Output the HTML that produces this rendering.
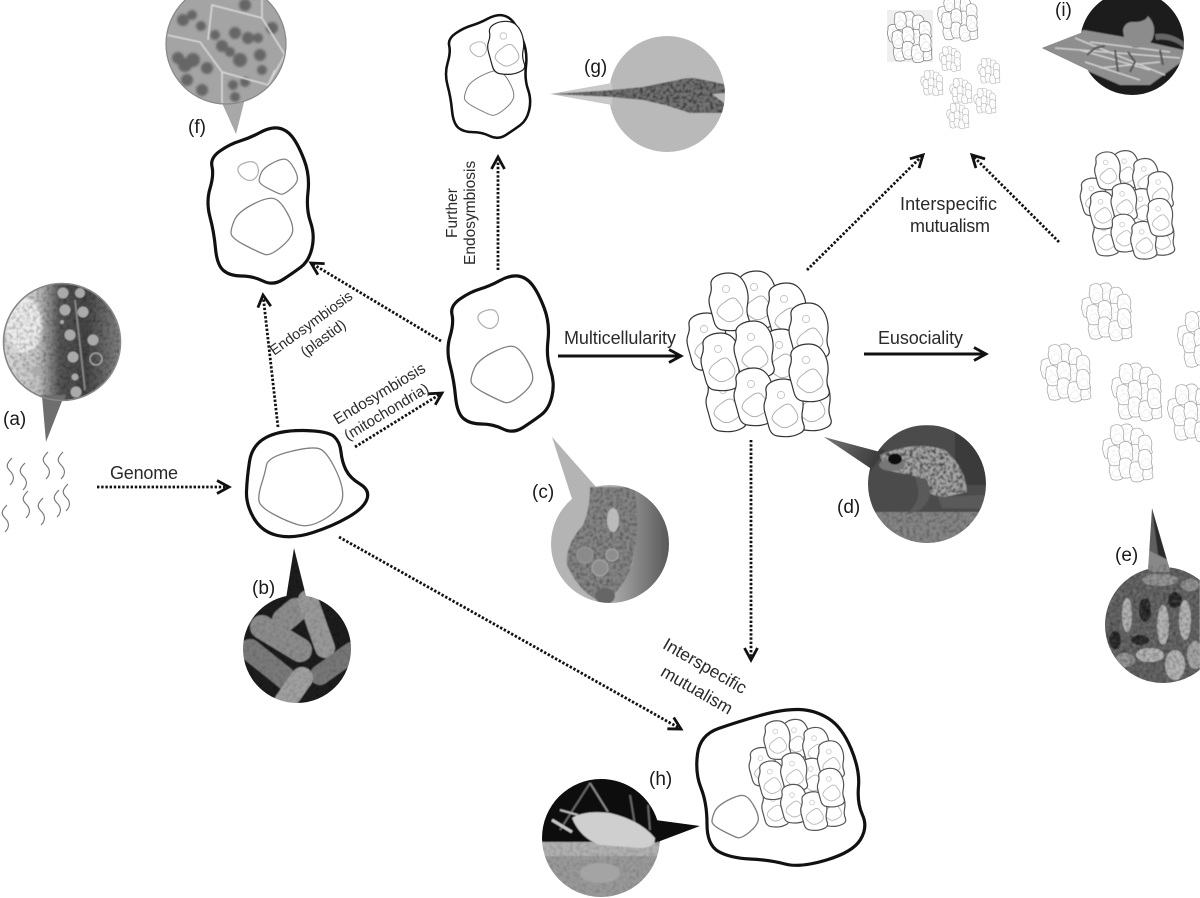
<!DOCTYPE html>
<html>
<head>
<meta charset="utf-8">
<style>
html,body{margin:0;padding:0;background:#fff;width:1200px;height:898px;overflow:hidden}
svg{display:block}
text{font-family:"Liberation Sans",sans-serif;fill:#2a2a2a;font-size:18px}
.p{font-size:19px;fill:#1a1a1a}
.o{fill:none;stroke:#111;stroke-width:3.2;stroke-linejoin:round}
.n{fill:none;stroke:#808080;stroke-width:1.3;stroke-linejoin:round}
.m{fill:none;stroke:#b0b0b0;stroke-width:1.2;stroke-linejoin:round}
.d{fill:none;stroke:#111;stroke-width:2.8;stroke-dasharray:2.4 1.8;marker-end:url(#h)}
.s{fill:none;stroke:#111;stroke-width:3;marker-end:url(#h)}
.g{fill:none;stroke:#777;stroke-width:1.2}
.ko{fill:#fff;stroke:currentColor;stroke-width:var(--w,1.2);vector-effect:non-scaling-stroke}
.ki{fill:none;stroke:var(--i,#b0b0b0);stroke-width:var(--v,1);vector-effect:non-scaling-stroke}
.kc{fill:none;stroke:var(--c,#c8c8c8);stroke-width:var(--v,1);vector-effect:non-scaling-stroke}
</style>
</head>
<body>
<svg width="1200" height="898" viewBox="0 0 1200 898" xmlns="http://www.w3.org/2000/svg">
<defs>
<marker id="h" markerUnits="userSpaceOnUse" markerWidth="28" markerHeight="28" refX="14" refY="14" orient="auto" overflow="visible">
<path d="M2,7.5 L14,14 L2,20.5" fill="none" stroke="#111" stroke-width="2.8"/>
</marker>
<path id="oc" d="M518,276 Q526,277 532,284.5 Q538,292 544,307.5 Q550,323 548,340 Q546,357 550.5,370 Q555,383 552,396 Q549,409 541,415 Q533,421 523,427.5 Q513,434 503,429 Q493,424 481.5,424 Q470,424 463.5,418.5 Q457,413 455.5,396.5 Q454,380 450,365 Q446,350 450,336.5 Q454,323 452,314.5 Q450,306 460,299 Q470,292 480,289 Q490,286 500,280.5 Q510,275 518,276Z"/>
<path id="nc" d="M492.5,352.5 Q507,345 513.5,346.5 Q520,348 527,360.5 Q534,373 532.5,380 Q531,387 520.5,395.5 Q510,404 505,402.5 Q500,401 485.5,393.5 Q471,386 471,381 Q471,376 474.5,368 Q478,360 492.5,352.5Z"/>
<path id="sc" d="M486,310.5 Q494,308 497,313 Q500,319 497,324 Q493,330 487,328 Q480,325 478,319 Q477,313 486,310.5Z"/>
<g id="k">
<path class="ko" d="M-1.5,-29 Q6,-29 10.5,-24.5 Q15,-20 17,-12.5 Q19,-5 17.5,2.5 Q16,10 18.5,16 Q21,22 15.5,25 Q10,28 4.5,28.5 Q-1,29 -7.5,28 Q-14,27 -16,19.5 Q-18,12 -20,5 Q-22,-2 -20,-7 Q-18,-12 -19,-17 Q-20,-22 -14.5,-25.5 Q-9,-29 -1.5,-29Z"/>
<path class="ki" d="M-5,0 Q2,-6 6,-3 Q12,3 13,9 Q13,14 7,17 Q1,21 -4,19 Q-11,15 -13,11 Q-13,5 -5,0Z"/>
<circle class="kc" cx="-4" cy="-13" r="3.6"/>
</g>
<g id="col">
<use href="#k" x="-2" y="-54"/><use href="#k" x="28" y="-42"/><use href="#k" x="-52" y="-12"/><use href="#k" x="23" y="4"/><use href="#k" x="-33" y="49"/><use href="#k" x="52" y="48"/><use href="#k" x="-30" y="-52"/><use href="#k" x="50" y="-22"/><use href="#k" x="-38" y="8"/><use href="#k" x="-5" y="-4"/><use href="#k" x="-5" y="43"/><use href="#k" x="25" y="54"/><use href="#k" x="50" y="19"/>
</g>
<path id="sq" d="M0,0 c-6,6 -6,9 -2,13 c5,5 4,10 0,14" class="g"/>
<linearGradient id="ga"><stop offset="0" stop-color="#dcdcdc"/><stop offset=".3" stop-color="#c4c4c4"/><stop offset=".48" stop-color="#555"/><stop offset=".68" stop-color="#444"/><stop offset="1" stop-color="#8a8a8a"/></linearGradient>
<linearGradient id="gc"><stop offset="0" stop-color="#b5b5b5"/><stop offset="1" stop-color="#505050"/></linearGradient>
<linearGradient id="gd" x1="0" x2="1" y1="0" y2=".3"><stop offset="0" stop-color="#777"/><stop offset="1" stop-color="#3a3a3a"/></linearGradient>
<clipPath id="ca"><circle cx="62" cy="342" r="59"/><polygon points="42,396 64,396 46,442"/></clipPath>
<clipPath id="cb"><circle cx="297" cy="649" r="54"/><polygon points="285,605 307,600 294,548"/></clipPath>
<clipPath id="cc"><circle cx="610" cy="544" r="59"/><polygon points="552,437 573,502 597,488"/></clipPath>
<clipPath id="cd"><circle cx="927" cy="484" r="59"/><polygon points="824,437 880,452 873,470"/></clipPath>
<clipPath id="ce"><circle cx="1163" cy="625" r="58"/><polygon points="1152,508 1148,570 1170,570"/></clipPath>
<clipPath id="cf"><circle cx="226" cy="44" r="60.5"/><polygon points="222,103 244,102 236,134"/></clipPath>
<clipPath id="cg"><circle cx="667" cy="94" r="58"/><polygon points="550,94 612,83 612,105"/></clipPath>
<clipPath id="ch"><circle cx="601" cy="838" r="59"/><polygon points="700,826 655,820 655,843"/></clipPath>
<clipPath id="ci"><circle cx="1132" cy="43" r="52"/><polygon points="1042,48 1088,30 1088,70"/></clipPath>
<clipPath id="cgd"><polygon points="552,94 612,90 643,87 687,78 695,78 728,85 728,93 712,94 728,106 728,113 690,113 665,105 643,100 612,97"/></clipPath>
<clipPath id="cfr"><path d="M880,455 Q915,440 945,450 Q966,468 967,492 L945,497 Q925,497 915,476 L885,470Z"/></clipPath>
<clipPath id="cbody"><path d="M590,487 L634,487 Q642,530 630,570 Q620,592 605,603 Q580,595 567,565 Q565,545 583,525 Q590,510 590,487Z"/></clipPath>
<filter id="bl" x="-5%" y="-5%" width="110%" height="110%"><feGaussianBlur stdDeviation=".6"/></filter>
<filter id="bl2" x="-5%" y="-5%" width="110%" height="110%"><feGaussianBlur stdDeviation="1.3"/></filter>
<filter id="nd" x="0" y="0" width="100%" height="100%"><feTurbulence type="fractalNoise" baseFrequency=".3" numOctaves="2" seed="4"/><feColorMatrix values="0 0 0 0 0  0 0 0 0 0  0 0 0 0 0  2.4 0 0 0 -1"/></filter>
<filter id="nl" x="0" y="0" width="100%" height="100%"><feTurbulence type="fractalNoise" baseFrequency=".3" numOctaves="2" seed="9"/><feColorMatrix values="0 0 0 0 1  0 0 0 0 1  0 0 0 0 1  2.4 0 0 0 -1"/></filter>
</defs>

<!-- Squiggles -->
<use href="#sq" x="12" y="458"/><use href="#sq" x="25" y="463"/><use href="#sq" x="48" y="452"/><use href="#sq" x="63" y="452"/><use href="#sq" x="68" y="484"/><use href="#sq" x="28" y="491"/><use href="#sq" x="43" y="498"/><use href="#sq" x="59" y="490"/><use href="#sq" x="7" y="505"/>

<!-- Photo a -->
<g clip-path="url(#ca)" filter="url(#bl)">
<rect x="0" y="280" width="125" height="170" fill="url(#ga)"/>
<ellipse cx="24" cy="325" rx="18" ry="28" fill="#ececec" filter="url(#bl2)"/>
<rect x="0" y="280" width="125" height="170" filter="url(#nd)" opacity=".3"/>
<polygon points="40,395 66,395 46,445" fill="#6e6e6e"/>
<g fill="#aaa"><circle cx="63" cy="293" r="5.5"/><circle cx="80" cy="293" r="5"/><circle cx="65" cy="310" r="5.5"/><circle cx="83" cy="312" r="5.5"/><circle cx="70" cy="335" r="5.5"/><circle cx="93" cy="340" r="5.5"/><circle cx="73" cy="357" r="5.5"/><circle cx="75" cy="377" r="3.5"/><circle cx="76" cy="392" r="5.5"/><circle cx="37" cy="371" r="5"/><circle cx="62" cy="322" r="2"/></g>
<circle cx="96" cy="359" r="6" fill="none" stroke="#aaa" stroke-width="1.3"/>
<line x1="75" y1="300" x2="85" y2="390" stroke="#888" stroke-width="1.8"/>
</g>
<circle cx="62" cy="342" r="58.5" fill="none" stroke="#888" stroke-width="1.6"/>

<!-- Photo b -->
<g clip-path="url(#cb)" filter="url(#bl)">
<rect x="240" y="545" width="115" height="160" fill="#1c1c1c"/>
<g fill="none" stroke-linecap="round" stroke="#8c8c8c">
<line x1="296" y1="610" x2="284" y2="620" stroke-width="24"/>
<line x1="262" y1="627" x2="300" y2="650" stroke-width="24"/>
<line x1="250" y1="650" x2="290" y2="682" stroke-width="22" stroke="#7a7a7a"/>
<line x1="308" y1="600" x2="325" y2="648" stroke-width="20" stroke="#999"/>
<line x1="320" y1="675" x2="352" y2="652" stroke-width="20" stroke="#777"/>
<line x1="302" y1="678" x2="285" y2="702" stroke-width="22" stroke="#a0a0a0"/>
</g>
<rect x="240" y="545" width="115" height="160" filter="url(#nd)" opacity=".15"/>
</g>

<!-- Photo c -->
<g clip-path="url(#cc)" filter="url(#bl)">
<rect x="545" y="430" width="130" height="180" fill="#b4b4b4"/>
<path d="M630,480 Q642,520 632,565 Q622,590 605,605 L675,605 L675,480Z" fill="url(#gc)"/>
<path d="M590,487 L634,487 Q642,530 630,570 Q620,592 605,603 Q580,595 567,565 Q565,545 583,525 Q590,510 590,487Z" fill="#848484"/>
<g clip-path="url(#cbody)"><rect x="560" y="480" width="82" height="125" filter="url(#nd)" opacity=".35"/></g>
<ellipse cx="613" cy="520" rx="6" ry="12" fill="#bbb"/>
<circle cx="600" cy="568" r="8" fill="#8e8e8e" stroke="#aaa"/><circle cx="612" cy="555" r="6" fill="#8e8e8e" stroke="#aaa"/><circle cx="585" cy="555" r="8" fill="#8a8a8a" stroke="#999"/>
<ellipse cx="605" cy="596" rx="10" ry="8" fill="#666"/>
</g>

<!-- Photo d -->
<g clip-path="url(#cd)" filter="url(#bl)">
<rect x="820" y="425" width="170" height="120" fill="#4c4c4c"/>
<polygon points="824,437 885,450 870,472" fill="url(#gd)"/>
<rect x="860" y="512" width="130" height="34" fill="#858585"/>
<rect x="860" y="512" width="130" height="34" filter="url(#nd)" opacity=".3"/>
<rect x="955" y="425" width="35" height="60" fill="#3a3a3a"/>
<path d="M880,455 Q915,440 945,450 Q966,468 967,492 L945,497 Q925,497 915,476 L885,470Z" fill="#a4a4a4"/>
<g clip-path="url(#cfr)"><rect x="880" y="442" width="90" height="58" filter="url(#nd)" opacity=".7"/></g>
<ellipse cx="892" cy="465" rx="13" ry="6" fill="#777"/>
<ellipse cx="895" cy="459" rx="7" ry="5.5" fill="#111"/>
<path d="M915,478 Q925,500 905,515 L918,511 Q938,497 925,478Z" fill="#5a5a5a"/>
<path d="M938,497 L985,495 L985,509 L942,508Z" fill="#5a5a5a"/>
</g>

<!-- Photo e -->
<g clip-path="url(#ce)" filter="url(#bl)">
<rect x="1100" y="505" width="100" height="185" fill="#5e5e5e"/>
<polygon points="1152,508 1170,570 1160,570" fill="#2c2c2c"/>
<polygon points="1148,550 1168,560 1170,572 1148,572" fill="#888"/>
<g fill="#b0b0b0">
<ellipse cx="1163" cy="625" rx="6" ry="20"/><ellipse cx="1185" cy="620" rx="6" ry="20"/><ellipse cx="1127" cy="615" rx="5" ry="17"/><ellipse cx="1150" cy="655" rx="14" ry="7"/><ellipse cx="1175" cy="665" rx="10" ry="15"/><ellipse cx="1160" cy="580" rx="18" ry="6" opacity=".6"/><ellipse cx="1195" cy="655" rx="8" ry="14" opacity=".8"/><ellipse cx="1125" cy="660" rx="10" ry="7" opacity=".6"/><ellipse cx="1190" cy="585" rx="9" ry="6" opacity=".6"/>
</g>
<g fill="#252525"><ellipse cx="1145" cy="610" rx="6" ry="12"/><ellipse cx="1175" cy="600" rx="7" ry="8"/><ellipse cx="1140" cy="640" rx="9" ry="5"/><ellipse cx="1115" cy="640" rx="6" ry="9"/></g>
<rect x="1100" y="565" width="100" height="125" filter="url(#nd)" opacity=".3"/>
<rect x="1100" y="565" width="100" height="125" filter="url(#nl)" opacity=".15"/>
</g>

<!-- Photo f -->
<g clip-path="url(#cf)">
<rect x="160" y="0" width="135" height="140" fill="#a4a4a4"/>
<polygon points="222,100 246,100 236,134" fill="#a8a8a8"/>
<g fill="#666" filter="url(#bl2)">
<circle cx="183" cy="20" r="6"/><circle cx="192" cy="15" r="5"/><circle cx="201" cy="26" r="5"/><circle cx="178" cy="58" r="6"/><circle cx="185" cy="65" r="7"/><circle cx="193" cy="60" r="7"/><circle cx="207" cy="68" r="6"/><circle cx="187" cy="80" r="6"/><circle cx="202" cy="90" r="6"/><circle cx="215" cy="35" r="5"/><circle cx="222" cy="46" r="6"/><circle cx="235" cy="33" r="6"/><circle cx="248" cy="38" r="6"/><circle cx="258" cy="38" r="5"/><circle cx="240" cy="60" r="7"/><circle cx="230" cy="52" r="5"/><circle cx="260" cy="55" r="6"/><circle cx="272" cy="28" r="6"/><circle cx="233" cy="85" r="5"/><circle cx="245" cy="82" r="5"/><circle cx="235" cy="97" r="5"/><circle cx="262" cy="70" r="5"/><circle cx="245" cy="5" r="6"/></g>
<path d="M167,35 L200,42 L222,72 L222,105 M222,72 L268,85 L285,55 L262,18 L212,5 L208,40 M262,18 L262,0 M268,85 L275,70" fill="none" stroke="#d4d4d4" stroke-width="1.8" filter="url(#bl)"/>
</g>
<circle cx="226" cy="44" r="60" fill="none" stroke="#888" stroke-width="1.2"/>

<!-- Photo g -->
<g clip-path="url(#cg)" filter="url(#bl)">
<rect x="545" y="30" width="185" height="130" fill="#b9b9b9"/>
<polygon points="550,94 612,83 612,105" fill="#c9c9c9"/>
<polygon points="552,94 612,90 643,87 687,78 695,78 728,85 728,93 712,94 728,106 728,113 690,113 665,105 643,100 612,97" fill="#727272"/>
<g clip-path="url(#cgd)"><rect x="550" y="76" width="180" height="40" filter="url(#nd)" opacity=".6"/></g>
</g>

<!-- Photo h -->
<g clip-path="url(#ch)" filter="url(#bl)">
<rect x="540" y="775" width="170" height="68" fill="#0a0a0a"/>
<rect x="540" y="842" width="125" height="60" fill="#999"/>
<rect x="540" y="842" width="125" height="14" fill="#b0b0b0"/>
<rect x="540" y="842" width="125" height="60" filter="url(#nd)" opacity=".15"/>
<g stroke="#666" stroke-width="2" fill="none"><line x1="590" y1="783" x2="560" y2="830"/><line x1="630" y1="795" x2="635" y2="825"/><line x1="648" y1="805" x2="650" y2="830"/><line x1="590" y1="783" x2="608" y2="812" stroke="#888"/><line x1="560" y1="810" x2="578" y2="815" stroke="#bbb"/><line x1="552" y1="820" x2="572" y2="832" stroke="#ccc" stroke-width="3"/></g>
<path d="M572,818 Q585,810 610,813 Q640,820 655,838 Q655,848 640,848 L600,845 Q580,838 572,818Z" fill="#cfcfcf"/>
<ellipse cx="600" cy="873" rx="20" ry="10" fill="#a4a4a4"/>
<polygon points="700,826 655,820 655,843" fill="#0a0a0a"/>
</g>

<!-- Photo i -->
<g clip-path="url(#ci)" filter="url(#bl)">
<rect x="1040" y="-10" width="150" height="110" fill="#1e1e1e"/>
<polygon points="1042,48 1084,30 1130,38 1184,50 1184,60 1150,85 1120,85 1090,72" fill="#8e8e8e"/>
<path d="M1055,48 L1180,58 M1075,38 L1165,75 M1085,62 L1140,80 M1090,42 L1170,52 M1080,50 L1150,70 M1100,68 L1160,62" stroke="#cfcfcf" stroke-width="1.5" fill="none"/>
<path d="M1123,30 Q1125,21 1135,22 Q1145,22 1148,16 Q1157,25 1153,38 Q1149,48 1135,48 Q1124,46 1123,30Z" fill="#8c8c8c"/>
<path d="M1155,34 Q1170,32 1184,42 L1184,48 Q1172,38 1156,40Z" fill="#666"/>
<path d="M1087,55 L1095,48 L1105,46 M1115,50 L1118,72 M1128,52 L1135,62 L1130,72 M1160,50 L1163,65" stroke="#555" stroke-width="2" fill="none"/>
</g>

<!-- Cell A -->
<path class="o" d="M304,430.5 Q328,431 334,436.5 Q340,442 341,452 Q342,462 346,470 Q350,478 360,484 Q370,490 367,499 Q364,508 348.5,517 Q333,526 313,532.5 Q293,539 277.5,535.5 Q262,532 254,518.5 Q246,505 246.5,491.5 Q247,478 249.5,461.5 Q252,445 266,437.5 Q280,430 304,430.5Z"/>
<path class="n" d="M290.5,451.5 Q313,446 320,449 Q327,452 335.5,469.5 Q344,487 342.5,498 Q341,509 325.5,518.5 Q310,528 299,525 Q288,522 274,514.5 Q260,507 259,501 Q258,495 261.5,484 Q265,473 266.5,465 Q268,457 290.5,451.5Z"/>

<!-- Cell C -->
<use href="#oc" class="o"/><use href="#nc" class="n"/><use href="#sc" class="m"/>

<!-- Cell F -->
<g transform="translate(-240,-148)">
<use href="#oc" class="o"/><use href="#nc" class="n"/><use href="#sc" class="m"/>
</g>
<g transform="translate(279,177) scale(.62) translate(-503,-375)"><use href="#nc" class="n" style="stroke-width:2"/></g>

<!-- Cell G -->
<g transform="translate(446,16) scale(.8,.79) translate(-448,-277)">
<use href="#oc" class="o"/><use href="#nc" class="n"/><use href="#sc" class="m"/>
</g>
<g transform="translate(507,48) scale(.92)" style="color:#222"><use href="#k"/></g>

<!-- Cell H -->
<path class="o" d="M718.5,728.5 Q737,722 760,715.5 Q783,709 799,709.5 Q815,710 828.5,718.5 Q842,727 851,748.5 Q860,770 858.5,786.5 Q857,803 862.5,815 Q868,827 860.5,839.5 Q853,852 826.5,860 Q800,868 785,864 Q770,860 750,859 Q730,858 718.5,851.5 Q707,845 707,824 Q707,803 701,788 Q695,773 697.5,754 Q700,735 718.5,728.5Z"/>
<g transform="translate(736,817) scale(.75) translate(-503,-375)"><use href="#nc" class="n" style="stroke-width:1.8"/></g>

<!-- Colonies -->
<g style="color:#333"><use href="#col" transform="translate(760,354)"/></g>
<g style="color:#555;--i:#b8b8b8;--c:#d0d0d0;--v:.9"><use href="#col" transform="translate(1128,205) scale(.655)"/></g>
<g style="color:#555;--i:#b8b8b8;--c:#d0d0d0;--v:.9"><use href="#col" transform="translate(798,775) scale(.67)"/></g>
<rect x="887" y="10" width="46" height="52" fill="#efefef"/>
<g style="color:#888;--w:.8;--i:#ccc;--c:#ddd;--v:.5"><use href="#col" transform="translate(910,37) scale(.31)"/></g>
<g style="color:#999;--w:.8;--i:#d8d8d8;--c:#e4e4e4;--v:.5"><use href="#col" transform="translate(958,18) scale(.28)"/></g>
<g style="color:#b4b4b4;--w:.6;--i:#e8e8e8;--c:#f0f0f0;--v:.3">
<use href="#col" transform="translate(950,59) scale(.15)"/>
<use href="#col" transform="translate(989,71) scale(.155)"/>
<use href="#col" transform="translate(932,83) scale(.155)"/>
<use href="#col" transform="translate(961,91) scale(.155)"/>
<use href="#col" transform="translate(985,101) scale(.155)"/>
<use href="#col" transform="translate(958,116) scale(.155)"/>
</g>
<g style="color:#aaa;--w:.8;--i:#ddd;--c:#eaeaea;--v:.5">
<use href="#col" transform="translate(1107,312) scale(.35)"/>
<use href="#col" transform="translate(1066,373) scale(.35)"/>
<use href="#col" transform="translate(1137,392) scale(.35)"/>
<use href="#col" transform="translate(1128,453) scale(.35)"/>
<use href="#col" transform="translate(1203,340) scale(.35)"/>
<use href="#col" transform="translate(1193,413) scale(.35)"/>
</g>

<!-- Arrows -->
<path class="d" d="M97,487 L229,487"/>
<path class="d" d="M278,427 L263,295"/>
<path class="d" d="M355,447 L442,393"/>
<path class="d" d="M441,341 L311,263"/>
<path class="d" d="M498,270 L498,157"/>
<path class="s" d="M558,356 L681,356"/>
<path class="s" d="M864,354 L986,354"/>
<path class="d" d="M807,270 L923,155"/>
<path class="d" d="M1059,242 L972,155"/>
<path class="d" d="M751,440 L751,660"/>
<path class="d" d="M339,537 L681,729"/>

<!-- Labels -->
<text class="p" x="3" y="425">(a)</text>
<text class="p" x="252" y="594">(b)</text>
<text class="p" x="532" y="498">(c)</text>
<text class="p" x="837" y="513">(d)</text>
<text class="p" x="1115" y="561">(e)</text>
<text class="p" x="188" y="133">(f)</text>
<text class="p" x="584" y="73">(g)</text>
<text class="p" x="649" y="785">(h)</text>
<text class="p" x="1055" y="16">(i)</text>

<text x="110" y="479" textLength="68">Genome</text>
<text x="564" y="344" textLength="112">Multicellularity</text>
<text x="878" y="344" textLength="85">Eusociality</text>
<text x="900" y="210" textLength="97">Interspecific</text>
<text x="910" y="232" textLength="80">mutualism</text>

<text transform="translate(457,238) rotate(-90)" style="font-size:15.5px">Further</text>
<text transform="translate(475,265) rotate(-90)" style="font-size:15.5px">Endosymbiosis</text>

<text transform="translate(314,327) rotate(-36)" text-anchor="middle" style="font-size:14.6px">Endosymbiosis</text>
<text transform="translate(326,342) rotate(-36)" text-anchor="middle" style="font-size:14.6px">(plastid)</text>
<text transform="translate(382,398) rotate(-31)" text-anchor="middle" style="font-size:15.5px">Endosymbiosis</text>
<text transform="translate(389,416) rotate(-31)" text-anchor="middle" style="font-size:15px">(mitochondria)</text>
<text transform="translate(702,671) rotate(30)" text-anchor="middle" style="font-size:17.5px">Interspecific</text>
<text transform="translate(694,695) rotate(30)" text-anchor="middle" style="font-size:17.5px">mutualism</text>
</svg>
</body>
</html>
